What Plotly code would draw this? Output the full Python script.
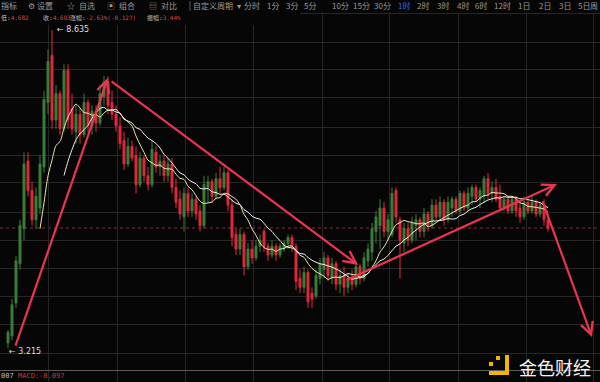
import plotly.graph_objects as go
import pandas as pd

# ---------------- data ----------------
open_ = [3.30, 3.42, 3.98, 4.65, 5.25, 6.40, 5.90, 5.40, 5.60, 6.30,
         7.40, 8.20, 7.10, 7.55, 6.95, 7.95, 7.30, 6.90, 7.20, 6.85,
         7.40, 7.00, 7.25, 7.05, 7.50, 7.75, 7.40, 7.20, 7.00, 6.75,
         6.35, 6.65, 6.50, 6.00, 6.45, 6.15, 6.00, 6.55, 6.30, 6.40,
         6.15, 6.35, 5.95, 5.75, 5.45, 5.85, 5.55, 5.75, 5.55, 5.30,
         5.95, 6.05, 5.80, 6.10, 5.95, 6.20, 5.65, 5.15, 4.90, 5.15,
         4.60, 4.90, 4.75, 4.95, 5.20, 4.95, 4.80, 4.95, 4.80, 4.90,
         5.00, 5.10, 4.95, 4.40, 4.25, 4.50, 4.15, 4.10, 4.40, 4.55,
         4.75, 4.40, 4.65, 4.30, 4.45, 4.25, 4.40, 4.30, 4.60, 4.40,
         4.70, 4.85, 5.20, 5.30, 5.60, 5.20, 5.15, 5.90, 5.40, 5.00,
         5.25, 5.05, 5.30, 5.40, 5.20, 5.50, 5.30, 5.65, 5.45, 5.70,
         5.40, 5.60, 5.75, 5.55, 5.85, 5.60, 5.80, 5.95, 5.75, 5.80,
         6.10, 5.85, 5.95, 5.80, 5.60, 5.75, 5.55, 5.75, 5.60, 5.45,
         5.70, 5.55, 5.70, 5.50, 5.65, 5.40]
high = [3.52, 4.05, 4.78, 5.40, 6.55, 6.55, 6.05, 5.95, 6.50, 7.60,
        8.30, 8.635, 7.70, 7.60, 8.05, 8.05, 7.55, 7.35, 7.30, 7.55,
        7.45, 7.35, 7.35, 7.70, 7.85, 7.85, 7.60, 7.35, 7.15, 6.90,
        6.80, 6.75, 6.65, 6.55, 6.50, 6.30, 6.75, 6.65, 6.50, 6.50,
        6.45, 6.45, 6.10, 5.90, 5.95, 5.95, 5.85, 5.80, 5.65, 6.15,
        6.15, 6.10, 6.20, 6.30, 6.30, 6.25, 5.75, 5.25, 5.25, 5.20,
        5.00, 5.05, 5.05, 5.15, 5.25, 5.00, 5.05, 5.00, 5.00, 5.05,
        5.15, 5.15, 5.00, 4.55, 4.60, 4.55, 4.25, 4.55, 4.75, 4.85,
        4.80, 4.75, 4.70, 4.55, 4.60, 4.50, 4.55, 4.70, 4.65, 4.85,
        5.00, 5.35, 5.55, 5.75, 5.70, 5.50, 5.95, 5.95, 5.45, 5.35,
        5.35, 5.45, 5.50, 5.45, 5.60, 5.55, 5.75, 5.75, 5.80, 5.75,
        5.80, 5.80, 5.80, 5.90, 5.90, 5.95, 6.00, 6.00, 5.95, 6.15,
        6.20, 6.05, 6.10, 6.00, 5.80, 5.80, 5.80, 5.80, 5.70, 5.80,
        5.75, 5.80, 5.75, 5.70, 5.75, 5.50]
low = [3.215, 3.35, 3.90, 4.55, 5.05, 5.80, 5.30, 5.25, 5.50, 6.20,
       7.20, 6.95, 6.95, 6.85, 6.90, 6.95, 6.85, 6.70, 6.70, 6.80,
       6.90, 6.85, 6.90, 7.00, 7.35, 7.20, 7.10, 6.90, 6.60, 6.25,
       6.30, 6.40, 5.85, 5.95, 6.05, 5.90, 5.95, 6.20, 6.15, 6.05,
       6.05, 5.85, 5.60, 5.40, 5.20, 5.45, 5.45, 5.40, 5.20, 5.25,
       5.70, 5.70, 5.75, 5.85, 5.90, 5.55, 4.95, 4.80, 4.80, 4.45,
       4.55, 4.65, 4.70, 4.85, 4.85, 4.70, 4.75, 4.70, 4.75, 4.85,
       4.90, 4.85, 4.20, 4.15, 4.15, 3.90, 3.90, 4.05, 4.30, 4.40,
       4.35, 4.30, 4.20, 4.15, 4.10, 4.15, 4.20, 4.25, 4.30, 4.35,
       4.60, 4.70, 5.00, 4.90, 5.10, 5.05, 5.10, 5.35, 4.40, 4.85,
       4.95, 5.00, 5.05, 5.10, 5.10, 5.20, 5.25, 5.40, 5.40, 5.30,
       5.35, 5.45, 5.50, 5.50, 5.55, 5.55, 5.65, 5.70, 5.60, 5.70,
       5.75, 5.70, 5.70, 5.55, 5.55, 5.50, 5.50, 5.45, 5.35, 5.40,
       5.50, 5.50, 5.45, 5.45, 5.30, 5.20]
close = [3.48, 3.95, 4.70, 5.30, 6.35, 5.90, 5.40, 5.80, 6.35, 7.45,
         8.10, 7.10, 7.55, 6.95, 7.95, 7.10, 6.95, 7.20, 6.85, 7.40,
         7.00, 7.25, 7.05, 7.55, 7.75, 7.35, 7.20, 7.00, 6.70, 6.35,
         6.65, 6.45, 6.00, 6.45, 6.15, 6.00, 6.60, 6.30, 6.40, 6.15,
         6.35, 5.95, 5.70, 5.50, 5.85, 5.55, 5.75, 5.50, 5.30, 6.00,
         6.05, 5.80, 6.10, 5.95, 6.20, 5.65, 5.10, 4.90, 5.15, 4.60,
         4.90, 4.75, 4.95, 5.05, 4.95, 4.80, 4.95, 4.80, 4.95, 5.00,
         5.10, 4.95, 4.35, 4.25, 4.50, 4.00, 4.05, 4.45, 4.65, 4.75,
         4.45, 4.65, 4.30, 4.45, 4.25, 4.40, 4.30, 4.60, 4.40, 4.75,
         4.90, 5.25, 5.45, 5.60, 5.20, 5.40, 5.85, 5.45, 5.05, 5.25,
         5.05, 5.35, 5.40, 5.20, 5.50, 5.30, 5.65, 5.45, 5.70, 5.40,
         5.70, 5.75, 5.55, 5.85, 5.60, 5.85, 5.95, 5.75, 5.90, 6.10,
         5.85, 5.95, 5.75, 5.60, 5.75, 5.55, 5.75, 5.55, 5.45, 5.70,
         5.55, 5.70, 5.50, 5.65, 5.40, 5.25]

MA_WINDOWS = [9, 15]
HIGH_LABEL = ("8.635", 8.635)
LOW_LABEL = ("3.215", 3.215)
REF_LINE = 5.26
# arrows: (tail index, tail price, head index, head price)
ARROWS = [(1.75, 3.23, 25.0, 7.82),
          (25.5, 7.78, 87.5, 4.63),
          (84.25, 4.36, 137.25, 6.01),
          (133.5, 5.74, 146.0, 3.40)]
INFO = [("低", "4.682"), ("收", "4.693"), ("涨幅", "-2.63%(-0.127)"), ("振幅", "3.44%")]
TOOLBAR = ["指标", "⚙", "设置", "☆", "自选", "▣", "组合", "▤", "对比", "自定义周期", "▾",
           "分时", "1分", "3分", "5分", "10分", "15分", "30分", "1时", "2时", "3时", "4时",
           "6时", "12时", "1日", "2日", "3日", "5日", "周"]

# ---------------- style / layout ----------------
W, H = 600, 382
BG = "#060606"
GREEN = "#3a7e3a"
RED = "#e2283c"
ARROW_C = "#ea3450"
GRID = "#262626"


def PX(x):
    return x / W


def PY(y):
    return 1 - y / H


idx = list(range(len(close)))
cs = pd.Series(close)

fig = go.Figure()
fig.add_trace(go.Candlestick(
    x=idx, open=open_, high=high, low=low, close=close,
    increasing=dict(line=dict(color=GREEN, width=1), fillcolor=GREEN),
    decreasing=dict(line=dict(color=RED, width=1), fillcolor=RED),
    whiskerwidth=0, showlegend=False, hoverinfo="skip"))

ma_colors = ["#e9e6b0", "#f2f0e6"]
for w, c in zip(MA_WINDOWS, ma_colors):
    ma = cs.rolling(w).mean()
    fig.add_trace(go.Scatter(x=idx, y=ma, mode="lines",
                             line=dict(color=c, width=1, shape="spline", smoothing=0.8),
                             showlegend=False, hoverinfo="skip"))

VGRID = [10, 27.25, 44.25, 61.25, 78.5, 95.25, 112.5, 129.5, 146.25]
HGRID = [8.913, 8.43, 7.953, 7.476, 6.981, 6.504, 6.027, 5.532, 5.055, 4.578, 4.084, 3.607, 3.129]

shapes = []
shapes.append(dict(type="line", xref="paper", x0=0, x1=1, yref="y", y0=REF_LINE, y1=REF_LINE,
                   line=dict(color="#8c2c36", width=1, dash="3px,3px"), layer="below"))
shapes.append(dict(type="rect", xref="paper", yref="paper", x0=0, x1=1, y0=PY(12.5), y1=1,
                   fillcolor=BG, line=dict(width=0), layer="above"))
shapes.append(dict(type="rect", xref="paper", yref="paper", x0=0, x1=PX(300), y0=PY(25), y1=1,
                   fillcolor=BG, line=dict(width=0), layer="above"))
shapes.append(dict(type="line", xref="paper", yref="paper", x0=PX(190), x1=PX(190), y0=PY(1), y1=PY(11),
                   line=dict(color="#555555", width=1), layer="above"))
shapes.append(dict(type="line", xref="paper", yref="paper", x0=0, x1=1, y0=PY(370.5), y1=PY(370.5),
                   line=dict(color="#5c5c5c", width=1), layer="above"))
LOGO = "#f3b400"
for (x0, y0, x1, y1) in [(505, 355, 509, 375), (489, 371, 509, 375), (496, 356, 500, 360), (489, 362, 493, 366)]:
    shapes.append(dict(type="rect", xref="paper", yref="paper", x0=PX(x0), x1=PX(x1), y0=PY(y1), y1=PY(y0),
                       fillcolor=LOGO, line=dict(width=0), layer="above"))

ann = []
TB_X = [9, 31, 45, 71, 87, 111, 127, 153, 169, 213, 239, 252, 273, 292, 310, 340, 361, 382,
        404, 423, 443, 463, 481, 502, 524, 545, 565, 584, 594]
for t, x in zip(TOOLBAR, TB_X):
    ann.append(dict(xref="paper", yref="paper", x=PX(x), y=PY(6), text=t, showarrow=False,
                    xanchor="center", yanchor="middle",
                    font=dict(family="Noto Sans CJK SC, DejaVu Sans", size=8,
                              color="#3b66d6" if t == "1时" else "#9a9a9a")))

INFO_X = [-1, 41, 68, 145]
for (lab, val), x in zip(INFO, INFO_X):
    ann.append(dict(xref="paper", yref="paper", x=PX(x), y=PY(18), showarrow=False,
                    xanchor="left", yanchor="middle",
                    text=f'<span style="color:#bdbdbd">{lab}:</span><span style="color:#d04a4a">{val}</span>',
                    font=dict(family="DejaVu Sans Mono, Noto Sans CJK SC", size=6)))

ann.append(dict(xref="paper", yref="paper", x=PX(-1), y=PY(376), showarrow=False, xanchor="left",
                yanchor="middle", text="007", font=dict(family="DejaVu Sans Mono", size=7, color="#bdbdbd")))
ann.append(dict(xref="paper", yref="paper", x=PX(16), y=PY(376), showarrow=False, xanchor="left",
                yanchor="middle", text="MACD:-0.097",
                font=dict(family="DejaVu Sans Mono", size=7, color="#c33a3a")))

hi_i = high.index(max(high))
lo_i = low.index(min(low))
ann.append(dict(x=hi_i, y=HIGH_LABEL[1], xref="x", yref="y", text="← " + HIGH_LABEL[0], showarrow=False,
                xanchor="left", yanchor="middle", xshift=3,
                font=dict(family="DejaVu Sans", size=8, color="#dedede")))
ann.append(dict(x=lo_i, y=LOW_LABEL[1], xref="x", yref="y", text="← " + LOW_LABEL[0], showarrow=False,
                xanchor="left", yanchor="middle", xshift=-1, yshift=-4,
                font=dict(family="DejaVu Sans", size=8, color="#dedede")))

for (tx, ty, hx, hy) in ARROWS:
    ann.append(dict(x=hx, y=hy, ax=tx, ay=ty, xref="x", yref="y", axref="x", ayref="y",
                    text="", showarrow=True, arrowhead=5, arrowsize=1.1, arrowwidth=2.2,
                    arrowcolor=ARROW_C, standoff=0, startstandoff=0))

ann.append(dict(xref="paper", yref="paper", x=PX(555), y=PY(367), text="金色财经", showarrow=False,
                xanchor="center", yanchor="middle",
                font=dict(family="Noto Sans CJK SC", size=18, color="#f4f4f4")))

fig.update_layout(
    width=W, height=H, autosize=False,
    margin=dict(l=0, r=0, t=0, b=0, pad=0),
    paper_bgcolor=BG, plot_bgcolor=BG,
    shapes=shapes, annotations=ann, showlegend=False,
    xaxis=dict(range=[-2, 148], tickvals=VGRID, showticklabels=False, showgrid=True,
               gridcolor=GRID, gridwidth=1, zeroline=False, showline=False, ticks="",
               rangeslider=dict(visible=False), fixedrange=True),
    yaxis=dict(range=[2.635, 9.146], tickvals=HGRID, showticklabels=False, showgrid=True,
               gridcolor=GRID, gridwidth=1, zeroline=False, showline=False, ticks="",
               fixedrange=True),
)

fig.write_html("out.html", config=dict(displayModeBar=False))
